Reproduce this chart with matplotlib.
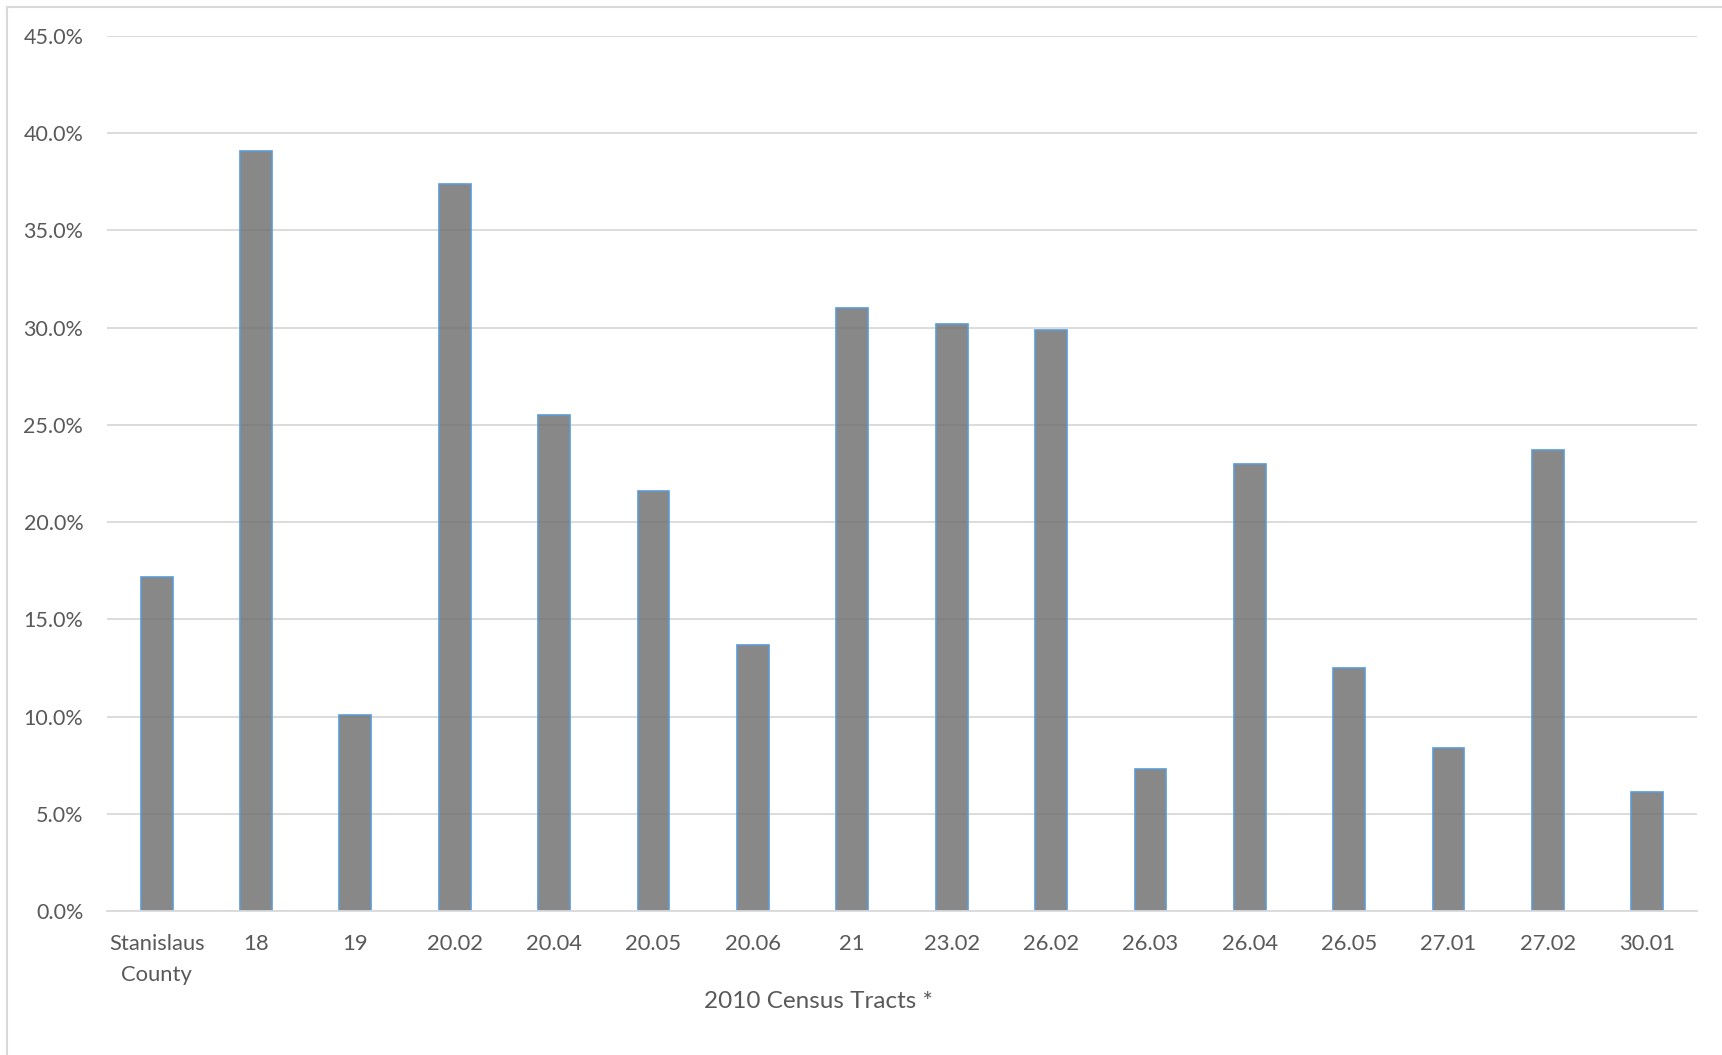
import matplotlib
matplotlib.use("Agg")
import matplotlib.pyplot as plt
from matplotlib.ticker import FuncFormatter, MultipleLocator
from matplotlib.lines import Line2D

categories = ["Stanislaus\nCounty", "18", "19", "20.02", "20.04", "20.05", "20.06", "21",
              "23.02", "26.02", "26.03", "26.04", "26.05", "27.01", "27.02", "30.01"]
values = [17.2, 39.1, 10.1, 37.4, 25.5, 21.6, 13.7, 31.0,
          30.2, 29.9, 7.3, 23.0, 12.5, 8.4, 23.7, 6.1]
x_title = "2010 Census Tracts *"

plt.rcParams['font.family'] = ['Lato', 'DejaVu Sans']

fig = plt.figure(figsize=(17.22, 10.55), dpi=100)
ax = fig.add_axes([0.0621, 0.1365, 0.9855 - 0.0621, 0.9659 - 0.1365])

x = list(range(len(categories)))
vals = [v / 100 for v in values]
ax.bar(x, vals, width=0.32, color=(0.45, 0.45, 0.45, 0.85),
       edgecolor='#5B9BD5', linewidth=1.2, zorder=2)

ax.set_xlim(-0.5, len(categories) - 0.5)
ax.set_ylim(0, 0.45)
ax.yaxis.set_major_locator(MultipleLocator(0.05))
ax.yaxis.set_major_formatter(FuncFormatter(lambda v, p: f"{v*100:.1f}%"))
ax.grid(axis='y', color='#d9d9d9', linewidth=1.3, zorder=0)
ax.set_axisbelow(True)
for s in ['top', 'right', 'left']:
    ax.spines[s].set_visible(False)
ax.spines['bottom'].set_color('#d9d9d9')
ax.spines['bottom'].set_linewidth(1.3)

ax.set_xticks(x)
ax.set_xticklabels(categories, fontsize=15.8, color='#595959', linespacing=1.7)
ax.tick_params(axis='both', length=0, labelcolor='#595959')
ax.tick_params(axis='x', pad=16.5, labelsize=15.8)
ax.tick_params(axis='y', pad=17, labelsize=15.5)

fig.text(818/1722, 1 - 1002/1055, x_title, fontsize=17.5, color='#595959',
         ha='center', va='center')

# outer chart frame (left and top edges visible)
fig.add_artist(Line2D([7/1722, 7/1722], [0, 1 - 7/1055], transform=fig.transFigure,
                      color='#d9d9d9', linewidth=1.5))
fig.add_artist(Line2D([7/1722, 1], [1 - 7/1055, 1 - 7/1055], transform=fig.transFigure,
                      color='#d9d9d9', linewidth=1.5))

fig.savefig("out.png", dpi=100, facecolor='white')
